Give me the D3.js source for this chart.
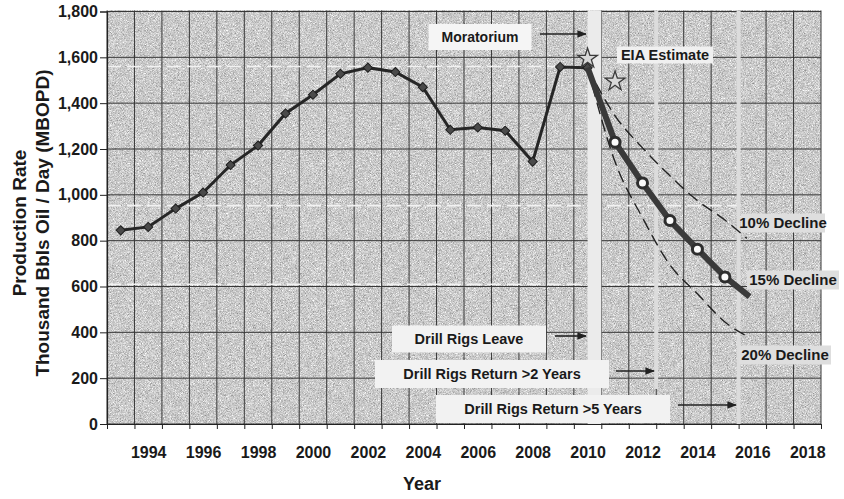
<!DOCTYPE html>
<html>
<head>
<meta charset="utf-8">
<script src="https://cdn.jsdelivr.net/npm/d3@7/dist/d3.min.js"></script>
<style>
  html, body { margin: 0; padding: 0; background: #fff; }
  svg { display: block; font-family: "Liberation Sans", Arial, sans-serif; font-weight: bold; }
</style>
</head>
<body>
<svg id="chart" width="844" height="499"></svg>
<script>
// ---- data ----
const years = [1993,1994,1995,1996,1997,1998,1999,2000,2001,2002,2003,2004,2005,2006,2007,2008,2009,2010];
const production = [845,860,940,1010,1130,1215,1355,1437,1528,1555,1536,1470,1284,1294,1280,1145,1558,1555];

const projYears = [2010,2011,2012,2013,2014,2015,2015.9];
const projection15 = [1555,1230,1052,888,763,642,556];
const circleYears = [2011,2012,2013,2014,2015];

const decline10Years = [2010,2011,2012,2013,2014,2015,2015.8];
const decline10 = [1555,1345,1205,1083,975,890,810];
const decline20Years = [2010,2011,2012,2013,2014,2015,2015.9];
const decline20 = [1555,1144,900,694,568,445,377];

const eiaYears = [2010,2011];
const eiaEstimate = [1595,1495];

const refLevels = [1560,953,610];
const refLevelEnds = [2010,2015.5,2015.5];

const yTicks = [0,200,400,600,800,1000,1200,1400,1600,1800];
const xLabelYears = [1994,1996,1998,2000,2002,2004,2006,2008,2010,2012,2014,2016,2018];

const moratoriumBand = [2010,2010.5];
const returnLines = [2012.5,2015.5];

// ---- layout ----
const svg = d3.select("#chart");
const L = 107, R = 821, T = 11.5, B = 424;
const x = d3.scaleLinear().domain([1992.5, 2018.5]).range([L, R]);
const y = d3.scaleLinear().domain([0, 1800]).range([B, T]);

const defs = svg.append("defs");
const grain = defs.append("filter").attr("id","grain").attr("x",0).attr("y",0).attr("width",1).attr("height",1)
  .attr("color-interpolation-filters","sRGB");
grain.append("feTurbulence").attr("type","fractalNoise").attr("baseFrequency",1.4).attr("numOctaves",1).attr("seed",4).attr("result","n");
grain.append("feColorMatrix").attr("in","n").attr("type","matrix")
  .attr("values","0.36 0.36 0.36 0 0.25  0.36 0.36 0.36 0 0.25  0.36 0.36 0.36 0 0.25  0 0 0 0 1");
defs.append("marker").attr("id","arrow").attr("viewBox","0 0 10 10").attr("refX",9).attr("refY",5)
  .attr("markerWidth",6).attr("markerHeight",6).attr("orient","auto")
  .append("path").attr("d","M0,1 L10,5 L0,9 z").attr("fill","#222");

// plot background
svg.append("rect").attr("x",L).attr("y",T-1).attr("width",R-L).attr("height",B-T+1)
  .attr("fill","#b4b4b4").attr("filter","url(#grain)");

// grid
const boundaries = d3.range(1992.5, 2019, 1);
svg.append("g").selectAll("line").data(boundaries).join("line")
  .attr("x1", d => x(d)).attr("x2", d => x(d)).attr("y1", T-1).attr("y2", B)
  .attr("stroke","#383838").attr("stroke-width",1);
svg.append("g").selectAll("line").data(yTicks).join("line")
  .attr("x1", L).attr("x2", R).attr("y1", d => y(d)).attr("y2", d => y(d))
  .attr("stroke","#383838").attr("stroke-width",1);

// white reference dashed lines
svg.append("g").selectAll("line").data(refLevels).join("line")
  .attr("x1", L).attr("x2", (d,i) => x(refLevelEnds[i]))
  .attr("y1", d => y(d)).attr("y2", d => y(d))
  .attr("stroke","#f2f2f2").attr("stroke-width",1.6).attr("stroke-dasharray","14,6");

// vertical bands
svg.append("rect").attr("x", x(moratoriumBand[0])).attr("y", T-1)
  .attr("width", x(moratoriumBand[1]) - x(moratoriumBand[0])).attr("height", B-T+1)
  .attr("fill","#ebebeb");
svg.append("g").selectAll("rect").data(returnLines).join("rect")
  .attr("x", d => x(d)-2).attr("y", T-1).attr("width", 4)
  .attr("height", (d,i) => i === 0 ? 390-T : B-T+1)
  .attr("fill","#dcdcdc");

// axes
const yAxis = svg.append("g").attr("transform",`translate(${L},0)`)
  .call(d3.axisLeft(y).tickValues(yTicks).tickFormat(d3.format(",")).tickSize(7).tickPadding(2));
yAxis.select(".domain").attr("stroke","#222").attr("stroke-width",1.2);
yAxis.selectAll(".tick line").attr("stroke","#222");
yAxis.selectAll("text").attr("font-size",16).attr("font-weight","bold").attr("fill","#1a1a1a")
  .attr("font-family","'Liberation Sans', Arial, sans-serif");

const xTickAxis = svg.append("g").attr("transform",`translate(0,${B})`)
  .call(d3.axisBottom(x).tickValues(boundaries).tickFormat("").tickSize(5).tickSizeOuter(0));
xTickAxis.select(".domain").attr("stroke","#222").attr("stroke-width",1.2);
xTickAxis.selectAll(".tick line").attr("stroke","#222");

const xLabAxis = svg.append("g").attr("transform",`translate(0,${B})`)
  .call(d3.axisBottom(x).tickValues(xLabelYears).tickFormat(d3.format("d")).tickSize(0).tickPadding(23));
xLabAxis.select(".domain").remove();
xLabAxis.selectAll("text").attr("font-size",16).attr("font-weight","bold").attr("fill","#1a1a1a")
  .attr("font-family","'Liberation Sans', Arial, sans-serif");

// axis titles
svg.append("text").attr("x", 422).attr("y", 490).attr("text-anchor","middle")
  .attr("font-size",18).attr("fill","#1a1a1a").text("Year");
svg.append("text").attr("transform","translate(26,223) rotate(-90)").attr("text-anchor","middle")
  .attr("font-size",19).attr("fill","#1a1a1a").text("Production Rate");
svg.append("text").attr("transform","translate(49,223) rotate(-90)").attr("text-anchor","middle")
  .attr("font-size",19).attr("fill","#1a1a1a").text("Thousand Bbls Oil / Day (MBOPD)");

// decline dashed lines
const dashLine = d3.line().curve(d3.curveMonotoneX);
svg.append("path").attr("d", dashLine(decline10Years.map((d,i) => [x(d), y(decline10[i])])))
  .attr("fill","none").attr("stroke","#222").attr("stroke-width",1.4).attr("stroke-dasharray","12,6");
svg.append("path").attr("d", dashLine(decline20Years.map((d,i) => [x(d), y(decline20[i])])))
  .attr("fill","none").attr("stroke","#222").attr("stroke-width",1.4).attr("stroke-dasharray","12,6");

// historical line
const line = d3.line();
svg.append("path").attr("d", line(years.map((d,i) => [x(d), y(production[i])])))
  .attr("fill","none").attr("stroke","#262626").attr("stroke-width",3);
svg.append("g").selectAll("path").data(years).join("path")
  .attr("d", d3.symbol().type(d3.symbolSquare).size(42))
  .attr("transform", (d,i) => `translate(${x(d)},${y(production[i])}) rotate(45)`)
  .attr("fill","#4a4a4a").attr("stroke","#1e1e1e").attr("stroke-width",1);

// 15% projection
svg.append("path").attr("d", line(projYears.map((d,i) => [x(d), y(projection15[i])])))
  .attr("fill","none").attr("stroke","#3a3a3a").attr("stroke-width",6);
svg.append("g").selectAll("circle").data(circleYears).join("circle")
  .attr("cx", d => x(d)).attr("cy", d => y(projection15[projYears.indexOf(d)]))
  .attr("r", 5).attr("fill","#fafafa").attr("stroke","#2e2e2e").attr("stroke-width",3);

// EIA stars
svg.append("g").selectAll("path").data(eiaYears).join("path")
  .attr("d", d3.symbol().type(d3.symbolStar).size(120))
  .attr("transform", (d,i) => `translate(${x(d)},${y(eiaEstimate[i])})`)
  .attr("fill","#d8d8d8").attr("stroke","#3a3a3a").attr("stroke-width",1.3);

// label boxes
function box(cx, cy, w, h, txt, fs, fill) {
  svg.append("rect").attr("x", cx - w/2).attr("y", cy - h/2).attr("width", w).attr("height", h)
    .attr("fill", fill);
  svg.append("text").attr("x", cx).attr("y", cy).attr("dy","0.36em").attr("text-anchor","middle")
    .attr("font-size", fs).attr("fill","#1a1a1a").text(txt);
}
box(480, 37, 103, 26, "Moratorium", 14, "#f5f5f5");
box(665, 55, 96, 17, "EIA Estimate", 14.5, "#f0f0f0");
box(469, 339, 154, 27, "Drill Rigs Leave", 14.5, "#f2f2f2");
box(492, 374, 234, 28, "Drill Rigs Return >2 Years", 14.5, "#f2f2f2");
box(553, 409, 234, 28, "Drill Rigs Return >5 Years", 14.5, "#f2f2f2");
box(783, 223, 84, 19, "10% Decline", 15, "#dedede");
box(793, 280, 92, 19, "15% Decline", 15, "#dedede");
box(785, 355, 92, 19, "20% Decline", 15, "#dedede");

// arrows
const arrows = [[540,34,586,34],[555,336,586,336],[616,371,654,371],[678,405,736,405]];
svg.append("g").selectAll("line").data(arrows).join("line")
  .attr("x1", d => d[0]).attr("y1", d => d[1]).attr("x2", d => d[2]).attr("y2", d => d[3])
  .attr("stroke","#222").attr("stroke-width",1.6).attr("marker-end","url(#arrow)");
</script>
</body>
</html>
